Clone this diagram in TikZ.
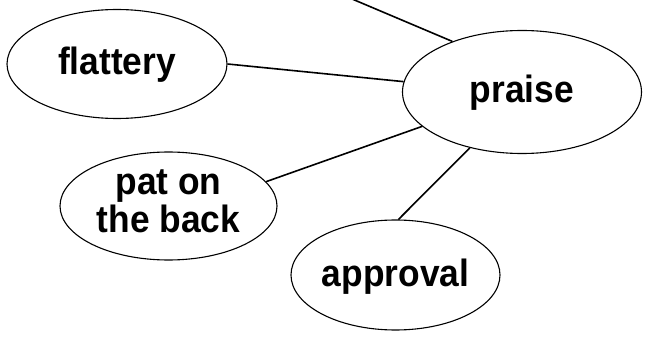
\documentclass[tikz,border=0pt]{standalone}
\usepackage{fontspec}
\newfontfamily\lblfont{Liberation Sans}[FakeStretch=0.93]
\usetikzlibrary{shapes.geometric}
\begin{document}
\begin{tikzpicture}[x=1pt,y=-1pt,
  bubble/.style={ellipse, draw, line width=1.1pt, inner sep=0pt,
    font=\lblfont\bfseries\fontsize{38}{38}\selectfont, align=center},
  oneline/.style={text height=28pt, text depth=6pt},
  link/.style={line width=1.6pt}]
\useasboundingbox (0,0) rectangle (645,339);
\node[bubble, oneline, minimum width=220pt, minimum height=109pt] (flattery) at (117,64) {flattery};
\node[bubble, oneline, minimum width=239pt, minimum height=123pt] (praise) at (522,92) {praise};
\node[bubble, text height=60pt, text depth=6pt, minimum width=217pt, minimum height=108pt] (pat) at (168.5,206) {pat on\\the back};
\node[bubble, oneline, minimum width=209pt, minimum height=110pt] (approval) at (395.5,275) {approval};
\coordinate (top) at (345,-4);
\draw[link] (top) -- (praise.144);
\draw[link] (flattery.0) -- (praise.175);
\draw[link] (pat.14) -- (praise.199);
\draw[link] (approval.87) -- (praise.227);
\end{tikzpicture}
\end{document}
